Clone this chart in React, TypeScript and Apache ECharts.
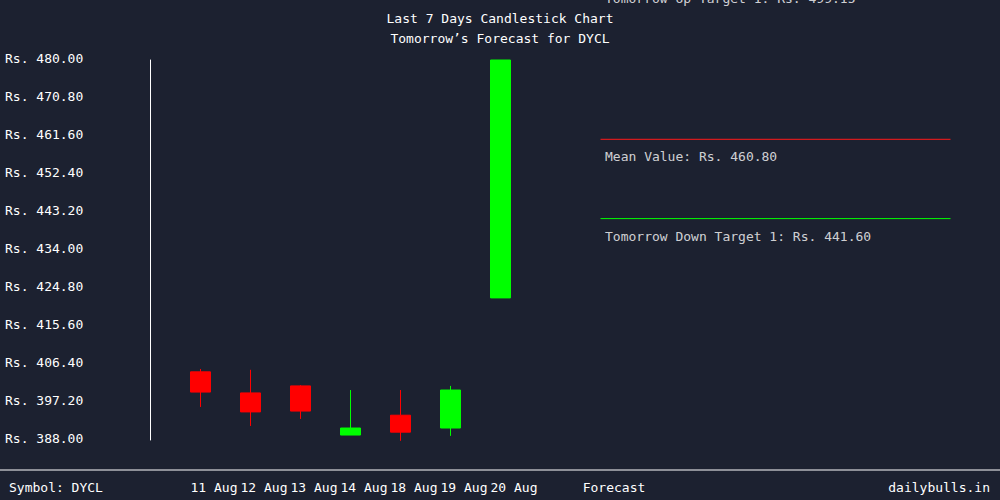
import React, { useEffect, useRef } from "react";
import * as echarts from "echarts";

const FONT = "'DejaVu Sans Mono', monospace";

// x positions: index 0 blank, 1..7 days, 8 blank, 9 "Forecast", 10..16 blank
const xCategories = ["", "11 Aug", "12 Aug", "13 Aug", "14 Aug", "18 Aug", "19 Aug", "20 Aug", "", "Forecast", "", "", "", "", "", "", ""];

// candles: [xIndex, open, close, low, high]
const candleX = [1, 2, 3, 4, 5, 6, 7];
const candleOpen = [404.5, 399.4, 401.1, 389.2, 394.0, 390.9, 422.4];
const candleClose = [399.6, 394.8, 395.0, 390.9, 389.9, 400.1, 480.0];
const candleLow = [396.0, 391.4, 393.1, 389.2, 387.8, 389.0, 422.4];
const candleHigh = [405.2, 405.0, 401.3, 400.1, 400.1, 401.1, 480.0];

const yTicks = [388.0, 397.2, 406.4, 415.6, 424.8, 434.0, 443.2, 452.4, 461.6, 470.8, 480.0];

const targetNames = ["Tomorrow Up Target 1", "Mean Value", "Tomorrow Down Target 1"];
const targetValues = [499.15, 460.8, 441.6];
const targetColors = ["#00ff00", "#ff1a1a", "#00ff00"];
const targetStart = 9;
const targetEnd = 16;

const symbolName = "DYCL";

export default function App() {
  const ref = useRef<HTMLDivElement>(null);

  useEffect(() => {
    document.body.style.margin = "0";
    document.body.style.background = "#1c2130";
    const chart = echarts.init(ref.current!, null, { renderer: "svg" });

    const candleData = candleX.map((x, i) => [x, candleOpen[i], candleClose[i], candleLow[i], candleHigh[i]]);

    const lineSeries = targetValues.map((v, i) => ({
      type: "line",
      data: [[targetStart, v], [targetEnd, v]],
      showSymbol: false,
      symbol: "none",
      lineStyle: { color: targetColors[i], width: 1 },
      silent: true,
      z: 3,
    }));

    const labelSeries = {
      type: "scatter",
      symbolSize: 0,
      clip: false,
      silent: true,
      data: targetValues.map((v, i) => ({
        value: [targetStart, v],
        label: {
          show: true,
          position: "right",
          distance: 4.5,
          offset: [0, 17.5],
          color: "#ffffff",
          fontFamily: FONT,
          fontSize: 13,
          formatter: `${targetNames[i]}: Rs. ${v.toFixed(2)}`,
        },
      })),
    };

    chart.setOption({
      animation: false,
      backgroundColor: "#1c2130",
      title: [
        {
          text: `Last 7 Days Candlestick Chart\nTomorrow’s Forecast for ${symbolName}`,
          left: 500,
          top: 8,
          padding: 0,
          textAlign: "center",
          textStyle: { color: "#ffffff", fontFamily: FONT, fontSize: 13, fontWeight: "normal", lineHeight: 20 },
        },
        {
          text: `Symbol: ${symbolName}`,
          left: 9,
          top: 481,
          padding: 0,
          textStyle: { color: "#ffffff", fontFamily: FONT, fontSize: 13, fontWeight: "normal" },
        },
        {
          text: "dailybulls.in",
          right: 10,
          top: 481,
          padding: 0,
          textStyle: { color: "#ffffff", fontFamily: FONT, fontSize: 13, fontWeight: "normal" },
        },
      ],
      graphic: [
        {
          type: "line",
          shape: { x1: 0, y1: 470, x2: 1000, y2: 470 },
          style: { stroke: "#ffffff", lineWidth: 1 },
          silent: true,
        },
      ],
      grid: { left: 150.5, right: 49.5, top: 60, bottom: 60, containLabel: false },
      xAxis: {
        type: "category",
        data: xCategories,
        boundaryGap: false,
        axisLine: { show: false },
        axisTick: { show: false },
        splitLine: { show: false },
        axisLabel: {
          interval: 0,
          color: "#ffffff",
          fontFamily: FONT,
          fontSize: 13,
          margin: 41,
          padding: [0, 0, 0, 27],
        },
      },
      yAxis: {
        type: "value",
        min: 388,
        max: 480,
        splitLine: { show: false },
        axisTick: { show: false },
        axisLine: { show: true, lineStyle: { color: "#ffffff", width: 1 } },
        axisLabel: {
          customValues: yTicks,
          align: "left",
          margin: 145.5,
          color: "#ffffff",
          fontFamily: FONT,
          fontSize: 13,
          formatter: (v: number) => `{v|Rs. ${v.toFixed(2)}}`,
          rich: {
            v: { color: "#ffffff", fontFamily: FONT, fontSize: 13, padding: [0, 0, 4, 0] },
          },
        },
      },
      series: [
        {
          type: "candlestick",
          data: candleData,
          encode: { x: 0, y: [1, 2, 3, 4] },
          barWidth: 21,
          itemStyle: {
            color: "#00ff00",
            color0: "#ff0000",
            borderColor: "#00ff00",
            borderColor0: "#ff0000",
            borderWidth: 1,
          },
          z: 4,
        },
        ...lineSeries,
        labelSeries,
      ],
    });

    return () => chart.dispose();
  }, []);

  return <div ref={ref} style={{ width: 1000, height: 500 }} />;
}
